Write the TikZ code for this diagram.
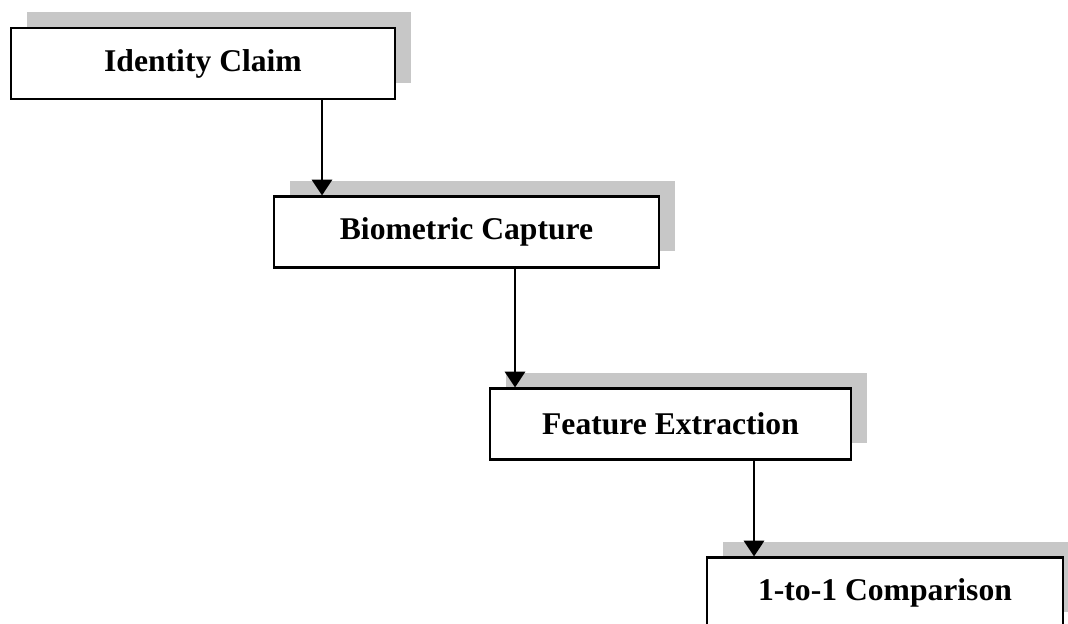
\documentclass[tikz,border=0pt]{standalone}
\usepackage{fontspec}
\setmainfont{Liberation Serif}
\usetikzlibrary{positioning}
\usetikzlibrary{arrows.meta,shadows}

\begin{document}
\begin{tikzpicture}[x=0.02cm,y=-0.02cm,>={Triangle[length=9pt,width=11.5pt]}]
\tikzstyle{every node}=[font=\fontsize{18}{21}\selectfont\bfseries]
\tikzstyle{stagebox}=[draw,line width=1.2pt,fill=white,minimum height=1.42cm,
  drop shadow={shadow xshift=0.32cm,shadow yshift=0.32cm,fill=black!22,opacity=1}]
\useasboundingbox (0,0) rectangle (1068,624);
\path node[stagebox,minimum width=7.68cm] (idc) at (203,63.5) {Identity Claim};
\path node[stagebox,minimum width=7.7cm] (bio) at (466.5,232) {Biometric Capture};
\path node[stagebox,minimum width=7.22cm] (feat) at (670.5,424) {Feature Extraction};
\path node[stagebox,minimum width=7.12cm] (comp) at (885,593) {1-to-1 Comparison};
% arrow columns
\coordinate (a1) at (322,0);
\coordinate (a2) at (515,0);
\coordinate (a3) at (754,0);
\path[->,draw,line width=1.6pt] (idc.south -| a1) -- (bio.north -| a1);
\path[->,draw,line width=1.6pt] (bio.south -| a2) -- (feat.north -| a2);
\path[->,draw,line width=1.6pt] (feat.south -| a3) -- (comp.north -| a3);
\end{tikzpicture}
\end{document}
